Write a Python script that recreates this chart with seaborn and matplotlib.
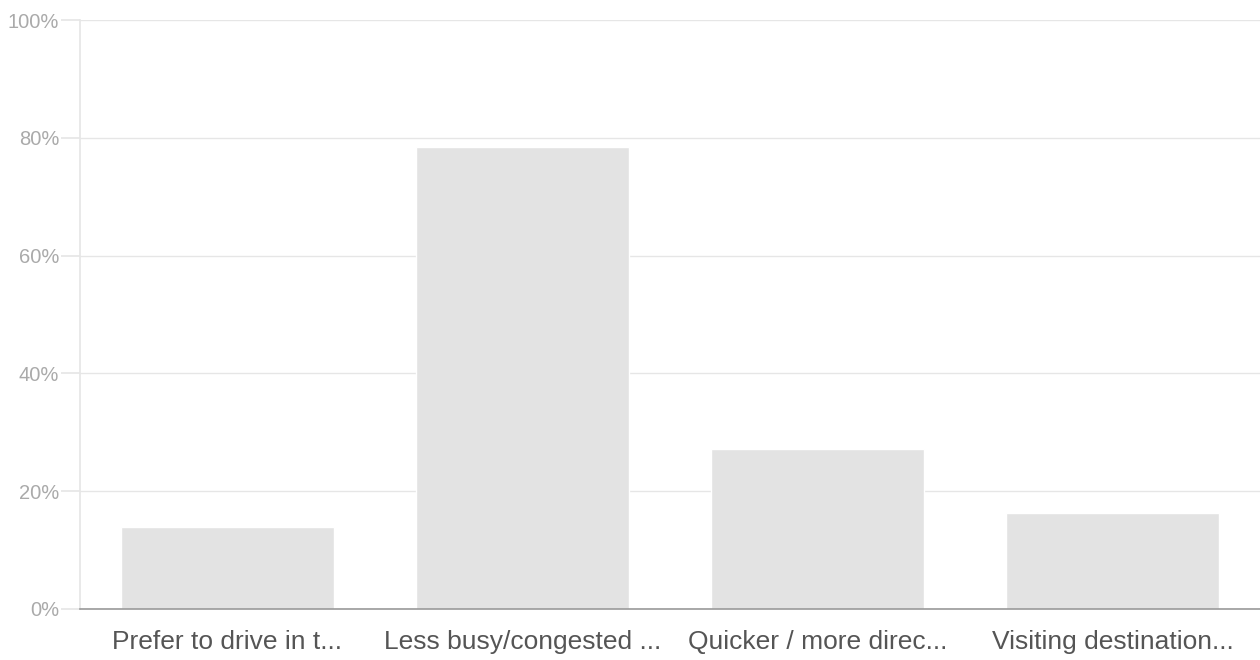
import pandas as pd
import seaborn as sns
import matplotlib.pyplot as plt
from matplotlib.ticker import PercentFormatter

categories = ['Prefer to drive in t...', 'Less busy/congested ...',
              'Quicker / more direc...', 'Visiting destination...']
values = [14.0, 78.5, 27.2, 16.3]
y_ticks = [0, 20, 40, 60, 80, 100]

df = pd.DataFrame({'reason': categories, 'share': values})

sns.set_theme(style='white')
plt.rcParams['font.family'] = ['Liberation Sans', 'DejaVu Sans']

fig = plt.figure(figsize=(12.6, 6.6), dpi=100)
ax = fig.add_axes([80 / 1260, 1 - 609 / 660, 1 - 80 / 1260, (609 - 20) / 660])

sns.barplot(data=df, x='reason', y='share', color='#e3e3e3', saturation=1,
            width=0.72, ax=ax)

ax.set_xlim(-0.5, 3.5)
ax.set_ylim(0, 100)
ax.set_yticks(y_ticks)
ax.yaxis.set_major_formatter(PercentFormatter(decimals=0))
ax.yaxis.grid(True, color='#e6e6e6', linewidth=1)
ax.set_axisbelow(True)
ax.set_xlabel('')
ax.set_ylabel('')

for side in ['top', 'right']:
    ax.spines[side].set_visible(False)
ax.spines['left'].set_color('#e6e6e6')
ax.spines['bottom'].set_color('#999999')
ax.spines['bottom'].set_linewidth(1.2)

ax.tick_params(axis='y', length=14, color='#e6e6e6', labelcolor='#aaaaaa',
               labelsize=14.5, pad=1, left=True)
ax.tick_params(axis='x', length=0, labelcolor='#555555', labelsize=19, pad=15)

fig.savefig('out.png', dpi=100)
